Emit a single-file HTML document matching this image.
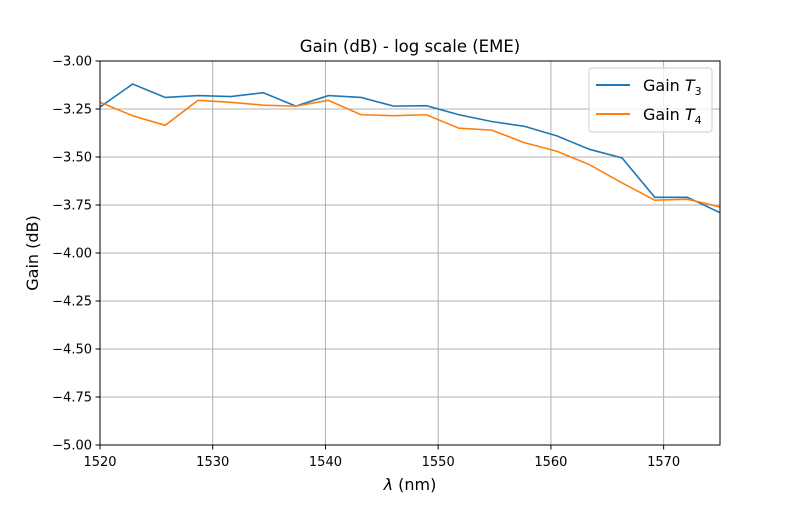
<!DOCTYPE html>
<html><head><meta charset="utf-8">
<style>
body{margin:0;background:#fff;font-family:"Liberation Sans","DejaVu Sans",sans-serif;}
svg text{font-family:"DejaVu Sans","Liberation Sans",sans-serif;}
</style></head>
<body>
<svg id="chart" width="800" height="500" xmlns="http://www.w3.org/2000/svg">
<rect width="800" height="500" fill="#fff"/>
<text x="410" y="52" text-anchor="middle" font-size="16.5">Gain (dB) - log scale (EME)</text>
<g id="grid"></g>
<g id="series"></g>
<rect x="100" y="61" width="620" height="384" fill="none" stroke="#000" stroke-width="1"/>
<g id="ticks"></g>
<text x="410" y="490" text-anchor="middle" font-size="16"><tspan font-style="italic">λ</tspan> (nm)</text>
<text transform="translate(38,253) rotate(-90)" text-anchor="middle" font-size="16">Gain (dB)</text>
<g>
<rect x="589" y="68" width="123" height="64" rx="3" fill="#fff" fill-opacity="0.8" stroke="#ccc"/>
<line x1="596" y1="85" x2="630" y2="85" stroke="#1f77b4" stroke-width="2"/>
<text x="643" y="91" font-size="16">Gain <tspan font-style="italic">T</tspan><tspan font-size="11" dy="4">3</tspan></text>
<line x1="596" y1="114" x2="630" y2="114" stroke="#ff7f0e" stroke-width="2"/>
<text x="643" y="120" font-size="16">Gain <tspan font-style="italic">T</tspan><tspan font-size="11" dy="4">4</tspan></text>
</g>
</svg>
<script>
const xTicks=[1520,1530,1540,1550,1560,1570];
const yTicks=[-3.0,-3.25,-3.5,-3.75,-4.0,-4.25,-4.5,-4.75,-5.0];
const gainT3=[-3.24,-3.12,-3.19,-3.18,-3.185,-3.165,-3.235,-3.18,-3.19,-3.235,-3.233,-3.28,-3.315,-3.34,-3.39,-3.46,-3.505,-3.71,-3.71,-3.79];
const gainT4=[-3.215,-3.285,-3.335,-3.205,-3.215,-3.23,-3.235,-3.205,-3.28,-3.285,-3.28,-3.35,-3.36,-3.425,-3.47,-3.54,-3.635,-3.725,-3.72,-3.76];
const lambdaStart=1520, lambdaEnd=1575;
const NS="http://www.w3.org/2000/svg";
const X=v=>100+(v-1520)/55*620;
const Y=v=>61+(-3-v)/2*384;
const wl=i=>lambdaStart+i*(lambdaEnd-lambdaStart)/(gainT3.length-1);
const grid=document.getElementById('grid'),ticks=document.getElementById('ticks'),series=document.getElementById('series');
function mk(tag,attrs,parent){const e=document.createElementNS(NS,tag);for(const k in attrs)e.setAttribute(k,attrs[k]);parent.appendChild(e);return e;}
xTicks.forEach(t=>{
 const gl=mk('line',{x1:X(t),x2:X(t),y1:61,y2:445,stroke:'#b0b0b0','stroke-width':1},grid);
 
 
 mk('line',{x1:X(t),x2:X(t),y1:445,y2:449.5,stroke:'#000'},ticks);
 const tx=mk('text',{x:X(t),y:466,'text-anchor':'middle','font-size':13},ticks);
 tx.textContent=t;
 
 
});
yTicks.forEach(t=>{
 const gl=mk('line',{x1:100,x2:720,y1:Y(t),y2:Y(t),stroke:'#b0b0b0','stroke-width':1},grid);
 
 
 mk('line',{x1:95.5,x2:100,y1:Y(t),y2:Y(t),stroke:'#000'},ticks);
 const tx=mk('text',{x:92,y:Y(t)+4.5,'text-anchor':'end','font-size':13},ticks);
 tx.textContent='−'+Math.abs(t).toFixed(2);
 
 
});
function line(data,color,name){
 const p=mk('polyline',{points:data.map((v,i)=>X(wl(i))+','+Y(v)).join(' '),fill:'none',stroke:color,'stroke-width':1.6},series);
 
 
}
line(gainT3,'#1f77b4','gain-t3-line');
line(gainT4,'#ff7f0e','gain-t4-line');
</script>
</body></html>
